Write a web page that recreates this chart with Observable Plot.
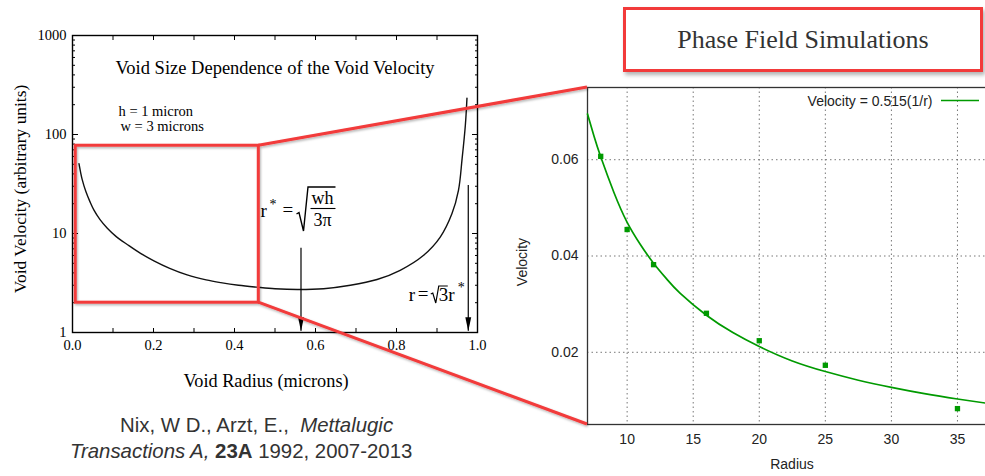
<!DOCTYPE html>
<html>
<head>
<meta charset="utf-8">
<script src="https://cdn.jsdelivr.net/npm/d3@7"></script>
<script src="https://cdn.jsdelivr.net/npm/@observablehq/plot@0.6"></script>
<style>
  html, body { margin: 0; padding: 0; background: #fff; }
  #figure { position: relative; width: 985px; height: 476px; overflow: hidden; background: #fff; }
  #figure svg { position: absolute; }
  #pf-box {
    position: absolute; left: 623px; top: 7px; width: 354px; height: 59px;
    border: 3px solid #f23a3a; box-shadow: 2px 3px 4px rgba(0,0,0,0.3);
    background: #fff; color: #333;
    font-family: "Liberation Serif", "Times New Roman", serif; font-size: 26px;
    display: flex; align-items: center; justify-content: center;
  }
  .cite {
    position: absolute; color: #333; white-space: pre;
    font-family: "Liberation Sans", Arial, sans-serif; font-size: 20.4px; line-height: 20px;
  }
</style>
</head>
<body>
<div id="figure"></div>
<script>
// ---- Nix & Arzt model: void velocity vs void radius (log scale) ----
const modelRadius   = [0.016, 0.02, 0.024, 0.033, 0.043, 0.053, 0.068, 0.086, 0.108, 0.136, 0.168, 0.201, 0.24, 0.283, 0.33, 0.366, 0.41, 0.456, 0.5, 0.555, 0.62, 0.686, 0.752, 0.809, 0.867, 0.908, 0.937, 0.953, 0.962, 0.970, 0.974];
const modelVelocity = [50.7, 41.5, 35, 26.5, 21, 17.2, 13.8, 11.3, 9.3, 7.7, 6.3, 5.3, 4.45, 3.82, 3.4, 3.19, 3.0, 2.87, 2.77, 2.72, 2.77, 3.0, 3.43, 4.25, 6.03, 9.2, 15.9, 27.3, 57, 124, 233];
const lineH = 1;   // h, microns
const lineW = 3;   // w, microns
const zoomRadius = [0.008, 0.46];
const zoomVelocity = [2.0, 77];
const arrowTop = [7.1, 30.5];     // where the two marker arrows start
const arrowTip = 1.03;
const leftYTicks = [1, 10, 100, 1000];
const leftXTicks = [0, 0.2, 0.4, 0.6, 0.8, 1.0];

// ---- Phase field simulations: velocity vs radius ----
const simRadius   = [8, 10, 12, 16, 20, 25, 35];
const simVelocity = [0.0607, 0.0455, 0.0382, 0.0281, 0.0224, 0.0173, 0.0083];
const fitRadius   = [7, 7.5, 8, 9, 10, 11, 12, 13, 14, 16, 18, 20, 22.5, 25, 27.5, 30, 32.5, 35, 37.5];
const fitVelocity = [0.0695, 0.0648, 0.0606, 0.0532, 0.0470, 0.0424, 0.0385, 0.0352, 0.0323, 0.0277, 0.0241, 0.0212, 0.0182, 0.0160, 0.0142, 0.0127, 0.0114, 0.0103, 0.0093];
const rightXTicks = [10, 15, 20, 25, 30, 35];
const rightYTicks = [0.02, 0.04, 0.06];
const fitLabel = "Velocity = 0.515(1/r)";

const serif = '"Liberation Serif", "Times New Roman", serif';
const sans = '"Liberation Sans", Arial, sans-serif';
const red = "#f23a3a";
const green = "#009a00";

// critical radius r* = sqrt(wh / 3π) and the upper limit √3 r*
const rStar = Math.sqrt(lineW * lineH / (3 * Math.PI));
const rLimit = Math.sqrt(3) * rStar;
const arrows = [{r: rStar, top: arrowTop[0]}, {r: rLimit, top: arrowTop[1]}];

const minorY = d3.range(0, 3).flatMap(e => d3.range(2, 10).map(k => k * 10 ** e));
const tenths = d3.range(0, 11).map(i => i / 10);

// slender filled arrowhead, tip at the anchor point
const arrowHead = {
  draw(ctx, size) {
    const r = Math.sqrt(size / Math.PI);
    ctx.moveTo(0, 0);
    ctx.lineTo(-0.42 * r, -2 * r);
    ctx.lineTo(0.42 * r, -2 * r);
    ctx.closePath();
  }
};

const fig = document.getElementById("figure");

const left = Plot.plot({
  width: 490, height: 400,
  marginLeft: 72, marginRight: 13, marginTop: 35, marginBottom: 68,
  style: {fontFamily: serif, fontSize: "14.5px", color: "#000", background: "none", overflow: "visible"},
  x: {domain: [0, 1]},
  y: {type: "log", domain: [1, 1000]},
  marks: [
    Plot.axisY(leftYTicks, {anchor: "left", tickSize: 0, tickPadding: 6, label: null, fontSize: 14.5, tickFormat: d => String(d)}),
    Plot.axisY(leftYTicks, {anchor: "left", tickSize: -6, fill: "none", label: null}),
    Plot.axisY(minorY, {anchor: "left", tickSize: -3, fill: "none", label: null}),
    Plot.axisY(leftYTicks, {anchor: "right", tickSize: -6, fill: "none", label: null}),
    Plot.axisY(minorY, {anchor: "right", tickSize: -3, fill: "none", label: null}),
    Plot.axisX(leftXTicks, {anchor: "bottom", tickSize: 0, tickPadding: 7, label: null, fontSize: 14.5, tickFormat: d3.format(".1f")}),
    Plot.axisX(tenths, {anchor: "bottom", tickSize: -4, fill: "none", label: null}),
    Plot.axisX(tenths, {anchor: "top", tickSize: -4, fill: "none", label: null}),
    Plot.frame({stroke: "#000", strokeWidth: 1.4}),
    Plot.line(modelVelocity, {x: modelRadius, y: modelVelocity, curve: "catmull-rom", stroke: "#111", strokeWidth: 1.4}),
    Plot.ruleX(arrows, {x: "r", y1: arrowTip, y2: "top", stroke: "#000", strokeWidth: 1.2}),
    Plot.dot(arrows, {x: "r", y: () => arrowTip, symbol: arrowHead, r: 7, fill: "#000", stroke: "none"}),
    Plot.text(["Void Size Dependence of the Void Velocity"], {frameAnchor: "top", dy: 33, lineAnchor: "middle", fontSize: 18.5}),
    Plot.text([`h = ${lineH} micron`], {frameAnchor: "top-left", dx: 46, dy: 76, textAnchor: "start", lineAnchor: "middle", fontSize: 14.5}),
    Plot.text([`w = ${lineW} microns`], {frameAnchor: "top-left", dx: 48, dy: 91, textAnchor: "start", lineAnchor: "middle", fontSize: 14.5}),
    Plot.text(["Void Velocity (arbitrary units)"], {frameAnchor: "left", dx: -52, dy: 5, rotate: -90, textAnchor: "middle", lineAnchor: "middle", fontSize: 17.4}),
    Plot.text(["Void Radius (microns)"], {frameAnchor: "bottom", dx: -9, dy: 49, lineAnchor: "middle", fontSize: 18.3})
  ]
});
left.style.left = "0px";
left.style.top = "0px";
fig.appendChild(left);

const rightOffset = 495;
const right = Plot.plot({
  width: 500, height: 476,
  marginLeft: 92, marginRight: 5, marginTop: 87, marginBottom: 52,
  style: {fontFamily: sans, fontSize: "14px", color: "#222", background: "none", overflow: "visible"},
  x: {domain: [7, 37.5]},
  y: {domain: [0.005, 0.075]},
  marks: [
    Plot.gridX(rightXTicks, {stroke: "#777", strokeOpacity: 1, strokeDasharray: "1.5,3"}),
    Plot.gridY(rightYTicks, {stroke: "#777", strokeOpacity: 1, strokeDasharray: "1.5,3"}),
    Plot.axisX(rightXTicks, {tickSize: 0, tickPadding: 10, label: null, fontSize: 14}),
    Plot.axisY(rightYTicks, {tickSize: 0, tickPadding: 9, label: null, fontSize: 14, tickFormat: d3.format(".2f")}),
    Plot.frame({stroke: "#333", strokeWidth: 1.3}),
    Plot.line(fitVelocity, {x: fitRadius, y: fitVelocity, curve: "natural", stroke: green, strokeWidth: 1.7}),
    Plot.dot(simVelocity, {x: simRadius, y: simVelocity, symbol: "square", r: 3, fill: green, stroke: "none"}),
    Plot.text([fitLabel], {frameAnchor: "top-right", dx: -58, dy: 14, textAnchor: "end", lineAnchor: "middle", fontSize: 14}),
    Plot.text(["Velocity"], {frameAnchor: "left", dx: -65, dy: 6, rotate: -90, textAnchor: "middle", lineAnchor: "middle", fontSize: 14}),
    Plot.text(["Radius"], {frameAnchor: "bottom", dx: 3, dy: 40, lineAnchor: "middle", fontSize: 14})
  ]
});
right.style.left = rightOffset + "px";
right.style.top = "0px";
fig.appendChild(right);

// ---- overlay: zoom box, connector lines, formulas, legend swatch ----
const sx = left.scale("x"), sy = left.scale("y");
const rx = right.scale("x"), ry = right.scale("y");
const box = {
  x1: sx.apply(zoomRadius[0]), x2: sx.apply(zoomRadius[1]),
  yTop: sy.apply(zoomVelocity[1]), yBot: sy.apply(zoomVelocity[0])
};
const frameLeft = rightOffset + rx.range[0];
const frameRight = rightOffset + rx.range[1];
const frameBottom = ry.range[0], frameTop = ry.range[1];

const overlay = d3.create("svg")
  .attr("width", 985).attr("height", 476)
  .style("left", "0px").style("top", "0px")
  .style("pointer-events", "none");

overlay.append("defs").append("filter").attr("id", "shade")
  .attr("x", "-5%").attr("y", "-5%").attr("width", "110%").attr("height", "110%")
  .append("feDropShadow").attr("dx", 1).attr("dy", 1.5).attr("stdDeviation", 1)
  .attr("flood-color", "#000").attr("flood-opacity", 0.3);

const zoomG = overlay.append("g").attr("filter", "url(#shade)")
  .attr("stroke", red).attr("stroke-width", 3).attr("fill", "none");
zoomG.append("rect")
  .attr("x", box.x1).attr("y", box.yTop)
  .attr("width", box.x2 - box.x1).attr("height", box.yBot - box.yTop);
zoomG.append("line").attr("x1", box.x2).attr("y1", box.yTop).attr("x2", frameLeft).attr("y2", frameTop);
zoomG.append("line").attr("x1", box.x2).attr("y1", box.yBot).attr("x2", frameLeft).attr("y2", frameBottom);

// r* = sqrt(wh / 3π)
const ax = sx.apply(rStar);
const f1 = overlay.append("g").attr("font-family", serif).attr("fill", "#000");
f1.append("text").attr("x", ax - 40).attr("y", 217).attr("font-size", 19).text("r");
f1.append("text").attr("x", ax - 31).attr("y", 209).attr("font-size", 14).text("*");
f1.append("text").attr("x", ax - 18).attr("y", 216).attr("font-size", 19).text("=");
f1.append("path")
  .attr("d", `M${ax - 4},214 L${ax - 1.5},212.5 L${ax + 3},231 L${ax + 7.5},187 L${ax + 35},187`)
  .attr("fill", "none").attr("stroke", "#000").attr("stroke-width", 1.4);
f1.append("text").attr("x", ax + 22).attr("y", 204).attr("font-size", 18).attr("text-anchor", "middle").text("wh");
f1.append("line").attr("x1", ax + 10).attr("x2", ax + 35).attr("y1", 208.5).attr("y2", 208.5)
  .attr("stroke", "#000").attr("stroke-width", 1.1);
f1.append("text").attr("x", ax + 22).attr("y", 226).attr("font-size", 18).attr("text-anchor", "middle").text("3π");

// r = √3 r*
const bx = sx.apply(rLimit);
const f2 = overlay.append("g").attr("font-family", serif).attr("fill", "#000");
f2.append("text").attr("x", bx - 59).attr("y", 301).attr("font-size", 19).text("r");
f2.append("text").attr("x", bx - 50).attr("y", 300).attr("font-size", 19).text("=");
f2.append("path")
  .attr("d", `M${bx - 37},294 L${bx - 35},293 L${bx - 32},303 L${bx - 29},286 L${bx - 20},286`)
  .attr("fill", "none").attr("stroke", "#000").attr("stroke-width", 1.2);
f2.append("text").attr("x", bx - 29).attr("y", 301).attr("font-size", 19).text("3r");
f2.append("text").attr("x", bx - 10).attr("y", 292).attr("font-size", 14).text("*");

// legend swatch for the fit line
overlay.append("line")
  .attr("x1", frameRight - 49).attr("x2", frameRight - 11)
  .attr("y1", frameTop + 13.5).attr("y2", frameTop + 13.5)
  .attr("stroke", green).attr("stroke-width", 1.7);

fig.appendChild(overlay.node());

// title box and citation
const pf = document.createElement("div");
pf.id = "pf-box";
pf.textContent = "Phase Field Simulations";
fig.appendChild(pf);

const c1 = document.createElement("div");
c1.className = "cite";
c1.style.left = "120px"; c1.style.top = "415px";
c1.innerHTML = "Nix, W D., Arzt, E.,  <i>Mettalugic</i>";
fig.appendChild(c1);

const c2 = document.createElement("div");
c2.className = "cite";
c2.style.left = "70px"; c2.style.top = "441px";
c2.innerHTML = "<i>Transactions A,</i> <b>23A</b> 1992, 2007-2013";
fig.appendChild(c2);
</script>
</body>
</html>
